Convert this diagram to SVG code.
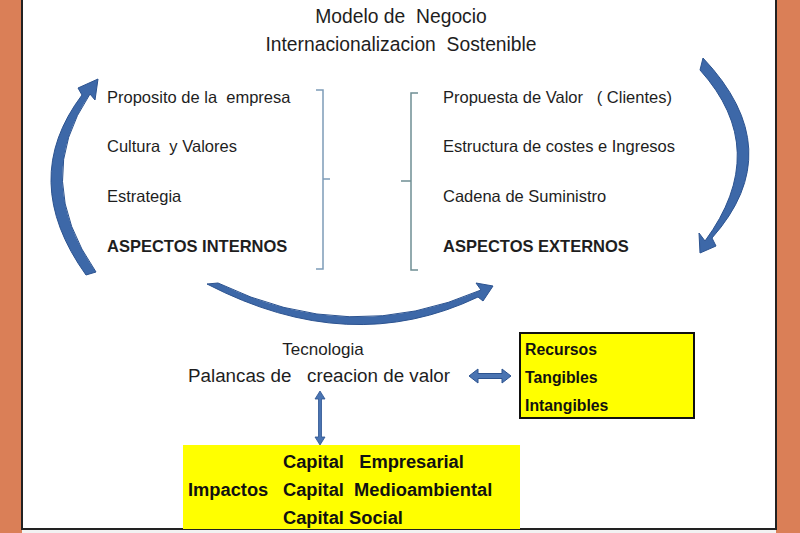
<svg xmlns="http://www.w3.org/2000/svg" width="800" height="533" viewBox="0 0 800 533">
<style>
text{font-family:"Liberation Sans",Arial,sans-serif;fill:#1e1e1e;white-space:pre}
.t{font-size:19.3px}
.p{font-size:18.8px}
.l{font-size:16.5px}
.b{font-weight:bold}
.y{font-size:15.8px;font-weight:bold;fill:#111}
.z{font-size:18.3px;font-weight:bold;fill:#111}
.arc{fill:#3d68a8;stroke:#2c5390;stroke-width:1}
.br{fill:none;stroke-width:1.5}
</style>
<rect x="0" y="0" width="800" height="533" fill="#da7f57"/>
<rect x="22" y="-2" width="754" height="531" fill="#ffffff" stroke="#222" stroke-width="2"/>
<rect x="22" y="530" width="754" height="3" fill="#f2f2f2"/>

<g id="title">
<text class="t" x="401" y="23" text-anchor="middle">Modelo de  Negocio</text>
<text class="t" x="401" y="51" text-anchor="middle">Internacionalizacion  Sostenible</text>
</g>

<g id="internos">
<text class="l" x="107" y="103">Proposito de la  empresa</text>
<text class="l" x="107" y="152">Cultura  y Valores</text>
<text class="l" x="107" y="202">Estrategia</text>
<text class="l b" x="107" y="252">ASPECTOS INTERNOS</text>
<path class="br" stroke="#7d9cb8" d="M316,90 H323 V269 H316 M323,179 H330"/>
</g>

<g id="externos">
<text class="l" x="443" y="103">Propuesta de Valor   ( Clientes)</text>
<text class="l" x="443" y="152">Estructura de costes e Ingresos</text>
<text class="l" x="443" y="202">Cadena de Suministro</text>
<text class="l b" x="443" y="252">ASPECTOS EXTERNOS</text>
<path class="br" stroke="#6f8f94" d="M418,93 H411 V270 H418 M411,181 H401"/>
</g>

<g id="palancas">
<text class="l" x="323" y="355" text-anchor="middle" style="font-size:17px">Tecnologia</text>
<text class="p" x="188" y="382">Palancas de   creacion de valor</text>
</g>

<g id="recursos">
<rect x="520" y="333" width="174" height="85" fill="#ffff00" stroke="#111" stroke-width="2"/>
<text class="y" x="525" y="355">Recursos</text>
<text class="y" x="525" y="383">Tangibles</text>
<text class="y" x="525" y="411">Intangibles</text>
</g>

<g id="impactos">
<rect x="183" y="445" width="337" height="84" fill="#ffff00"/>
<text class="z" x="283" y="468">Capital   Empresarial</text>
<text class="z" x="188" y="496">Impactos   <tspan x="283">Capital  Medioambiental</tspan></text>
<text class="z" x="283" y="524">Capital Social</text>
</g>

<g id="connectors">
<path class="arc" d="M86,275 Q18,180 82,95 L78,88 L98,79 L95,100 L90,94 Q32,180 96,272 Z"/>
<path class="arc" d="M703,58 Q790,150 712,238 L716,246 L700,253 L699,233 L705,241 Q772,150 700,70 Z"/>
<path class="arc" d="M207,284 Q350,358 478,297 L483,301 L493,286 L476,283 L481,290 Q350,347 218,283 Z"/>
<path fill="#4a74b2" stroke="#2c5390" stroke-width="1" d="M469,376 L478,369 V373.5 H502 V369 L511,376 L502,383 V378.5 H478 V383 Z"/>
<path fill="#4a74b2" stroke="#2c5390" stroke-width="0.8" d="M320,391 L325,399 H321.5 V437 H325 L320,445 L315,437 H318.5 V399 H315 Z"/>
</g>
</svg>
